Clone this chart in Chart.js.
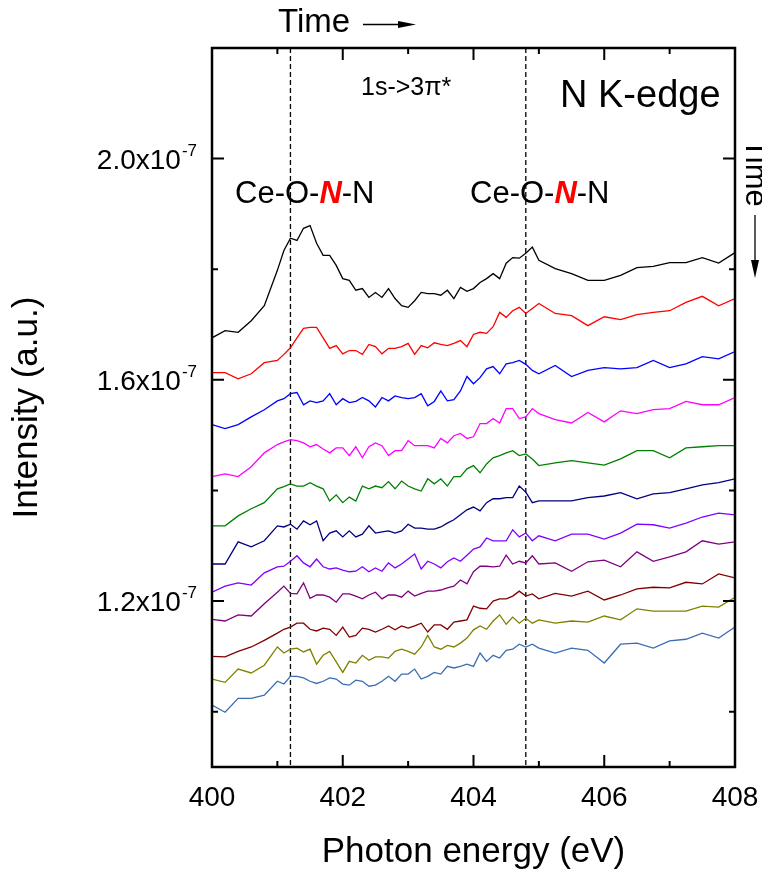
<!DOCTYPE html>
<html>
<head>
<meta charset="utf-8">
<script src="https://cdn.jsdelivr.net/npm/chart.js@4/dist/chart.umd.min.js"></script>
<style>
  html, body { margin: 0; padding: 0; background: #fff; }
  #wrap { width: 762px; height: 871px; }
</style>
</head>
<body>
<div id="wrap"><canvas id="xas" width="762" height="871"></canvas></div>
<script>
'use strict';

// photon energy grid (eV)
const energy = [
  400.0, 400.2, 400.4, 400.6, 400.8, 401.0,
  401.1, 401.2, 401.3, 401.4, 401.5, 401.6, 401.7, 401.8, 401.9, 402.0,
  402.1, 402.2, 402.3, 402.4, 402.5, 402.6, 402.7, 402.8, 402.9, 403.0,
  403.1, 403.2, 403.3, 403.4, 403.5, 403.6, 403.7, 403.8, 403.9, 404.0,
  404.1, 404.2, 404.3, 404.4, 404.5, 404.6, 404.7, 404.8, 404.9, 405.0,
  405.25, 405.5, 405.75, 406.0, 406.25, 406.5, 406.75, 407.0, 407.25, 407.5, 407.75, 408.0
];

// intensities, in units of 1e-7 (a.u.), first scan on top
const scan1 = [1.676, 1.689, 1.686, 1.707, 1.734, 1.798,
  1.834, 1.856, 1.852, 1.874, 1.879, 1.847, 1.825, 1.825, 1.807, 1.783,
  1.780, 1.762, 1.765, 1.749, 1.758, 1.749, 1.765, 1.747, 1.734, 1.731,
  1.743, 1.758, 1.756, 1.756, 1.753, 1.762, 1.747, 1.767, 1.760, 1.765,
  1.776, 1.783, 1.792, 1.783, 1.811, 1.821, 1.820, 1.829, 1.840, 1.816,
  1.801, 1.792, 1.780, 1.780, 1.789, 1.803, 1.805, 1.812, 1.812, 1.821, 1.811, 1.830];
const scan2 = [1.613, 1.613, 1.602, 1.611, 1.631, 1.635,
  1.646, 1.658, 1.676, 1.693, 1.695, 1.695, 1.676, 1.657, 1.662, 1.647,
  1.653, 1.653, 1.646, 1.664, 1.660, 1.647, 1.657, 1.657, 1.660, 1.666,
  1.646, 1.662, 1.658, 1.667, 1.664, 1.662, 1.666, 1.671, 1.660, 1.682,
  1.686, 1.684, 1.696, 1.722, 1.713, 1.725, 1.731, 1.720, 1.729, 1.738,
  1.720, 1.716, 1.698, 1.714, 1.709, 1.718, 1.722, 1.725, 1.740, 1.751, 1.734, 1.747];
const scan3 = [1.519, 1.512, 1.519, 1.533, 1.546, 1.562,
  1.566, 1.575, 1.577, 1.555, 1.562, 1.559, 1.562, 1.575, 1.555, 1.566,
  1.559, 1.561, 1.568, 1.562, 1.551, 1.568, 1.562, 1.571, 1.568, 1.566,
  1.568, 1.575, 1.553, 1.561, 1.580, 1.562, 1.564, 1.580, 1.606, 1.593,
  1.604, 1.620, 1.624, 1.611, 1.629, 1.631, 1.635, 1.628, 1.617, 1.611,
  1.626, 1.606, 1.617, 1.622, 1.620, 1.622, 1.635, 1.622, 1.629, 1.642, 1.638, 1.651];
const scan4 = [1.425, 1.430, 1.425, 1.443, 1.468, 1.483,
  1.488, 1.492, 1.490, 1.486, 1.479, 1.483, 1.475, 1.468, 1.477, 1.477,
  1.463, 1.479, 1.459, 1.479, 1.486, 1.481, 1.463, 1.472, 1.472, 1.490,
  1.481, 1.481, 1.481, 1.477, 1.494, 1.486, 1.499, 1.503, 1.494, 1.497,
  1.521, 1.521, 1.530, 1.522, 1.548, 1.548, 1.530, 1.533, 1.548, 1.539,
  1.528, 1.522, 1.541, 1.524, 1.544, 1.539, 1.546, 1.548, 1.561, 1.555, 1.555, 1.568];
const scan5 = [1.336, 1.336, 1.354, 1.367, 1.378, 1.403,
  1.407, 1.412, 1.408, 1.408, 1.414, 1.408, 1.403, 1.381, 1.392, 1.378,
  1.388, 1.381, 1.408, 1.403, 1.408, 1.405, 1.416, 1.403, 1.417, 1.408,
  1.403, 1.399, 1.421, 1.412, 1.421, 1.408, 1.425, 1.425, 1.439, 1.445,
  1.432, 1.448, 1.459, 1.463, 1.468, 1.472, 1.463, 1.466, 1.457, 1.445,
  1.450, 1.454, 1.450, 1.446, 1.457, 1.472, 1.472, 1.459, 1.477, 1.479, 1.481, 1.481];
const scan6 = [1.267, 1.267, 1.307, 1.298, 1.309, 1.336,
  1.334, 1.339, 1.330, 1.345, 1.338, 1.345, 1.309, 1.323, 1.327, 1.316,
  1.327, 1.316, 1.321, 1.336, 1.323, 1.325, 1.327, 1.323, 1.327, 1.339,
  1.332, 1.332, 1.330, 1.330, 1.334, 1.341, 1.347, 1.356, 1.365, 1.370,
  1.363, 1.378, 1.385, 1.385, 1.387, 1.387, 1.408, 1.397, 1.378, 1.381,
  1.381, 1.381, 1.387, 1.390, 1.396, 1.385, 1.394, 1.396, 1.403, 1.410, 1.414, 1.421];
const scan7 = [1.216, 1.227, 1.233, 1.229, 1.251, 1.262,
  1.263, 1.272, 1.282, 1.269, 1.262, 1.276, 1.262, 1.258, 1.260, 1.256,
  1.253, 1.254, 1.262, 1.253, 1.260, 1.254, 1.269, 1.260, 1.267, 1.276,
  1.285, 1.258, 1.272, 1.267, 1.260, 1.271, 1.278, 1.272, 1.283, 1.294,
  1.298, 1.314, 1.309, 1.309, 1.309, 1.329, 1.316, 1.323, 1.309, 1.318,
  1.309, 1.321, 1.321, 1.312, 1.323, 1.339, 1.338, 1.332, 1.341, 1.352, 1.359, 1.356];
const scan8 = [1.167, 1.164, 1.175, 1.173, 1.195, 1.216,
  1.227, 1.214, 1.213, 1.233, 1.205, 1.211, 1.211, 1.207, 1.198, 1.213,
  1.213, 1.209, 1.204, 1.211, 1.216, 1.204, 1.211, 1.211, 1.207, 1.218,
  1.209, 1.214, 1.218, 1.218, 1.220, 1.224, 1.227, 1.238, 1.231, 1.253,
  1.263, 1.263, 1.262, 1.263, 1.283, 1.267, 1.272, 1.269, 1.282, 1.267,
  1.269, 1.254, 1.271, 1.274, 1.262, 1.289, 1.272, 1.280, 1.289, 1.309, 1.303, 1.307];
const scan9 = [1.100, 1.099, 1.109, 1.117, 1.129, 1.142,
  1.149, 1.153, 1.160, 1.160, 1.149, 1.146, 1.151, 1.149, 1.138, 1.153,
  1.135, 1.138, 1.151, 1.149, 1.144, 1.149, 1.155, 1.148, 1.155, 1.151,
  1.155, 1.160, 1.144, 1.157, 1.157, 1.149, 1.162, 1.164, 1.166, 1.191,
  1.187, 1.186, 1.200, 1.204, 1.204, 1.209, 1.218, 1.209, 1.213, 1.204,
  1.214, 1.209, 1.218, 1.202, 1.211, 1.222, 1.225, 1.224, 1.234, 1.231, 1.249, 1.242];
const scan10 = [1.059, 1.053, 1.077, 1.070, 1.084, 1.117,
  1.106, 1.113, 1.115, 1.108, 1.113, 1.086, 1.102, 1.109, 1.090, 1.071,
  1.091, 1.088, 1.102, 1.093, 1.099, 1.099, 1.097, 1.109, 1.113, 1.109,
  1.104, 1.117, 1.138, 1.117, 1.113, 1.120, 1.117, 1.124, 1.133, 1.148,
  1.155, 1.149, 1.164, 1.175, 1.158, 1.171, 1.160, 1.169, 1.160, 1.166,
  1.160, 1.164, 1.162, 1.173, 1.166, 1.186, 1.182, 1.182, 1.182, 1.191, 1.189, 1.207];
const scan11 = [1.012, 0.999, 1.024, 1.024, 1.030, 1.055,
  1.050, 1.064, 1.064, 1.061, 1.055, 1.051, 1.055, 1.061, 1.059, 1.050,
  1.048, 1.057, 1.055, 1.046, 1.048, 1.055, 1.064, 1.055, 1.068, 1.068,
  1.077, 1.059, 1.064, 1.071, 1.068, 1.082, 1.079, 1.082, 1.086, 1.082,
  1.106, 1.091, 1.102, 1.097, 1.111, 1.113, 1.122, 1.117, 1.122, 1.115,
  1.106, 1.115, 1.111, 1.088, 1.122, 1.124, 1.115, 1.128, 1.131, 1.142, 1.133, 1.153];

const scans = [scan1, scan2, scan3, scan4, scan5, scan6, scan7, scan8, scan9, scan10, scan11];
const scanColors = ['#000000', '#ff0000', '#0000ff', '#ff00ff', '#008000', '#000080',
  '#8000ff', '#800080', '#800000', '#808000', '#3a6db3'];

// axes
const xMajor = [400, 402, 404, 406, 408];
const xMinor = [401, 403, 405, 407];
const yMajor = [1.2, 1.6, 2.0];
const yMinor = [1.0, 1.4, 1.8];
const yTickLabels = ['1.2x10', '1.6x10', '2.0x10'];
const yTickExp = '-7';
const peakLines = [401.2, 404.8];

const FONT = '"Liberation Sans", Arial, Helvetica, sans-serif';

const chrome = {
  id: 'chrome',
  beforeDatasetsDraw(chart) {
    const { ctx, chartArea: a, scales: { x } } = chart;
    ctx.save();
    ctx.strokeStyle = '#000';
    ctx.lineWidth = 1.3;
    ctx.setLineDash([5, 3]);
    peakLines.forEach((e) => {
      const px = x.getPixelForValue(e);
      ctx.beginPath();
      ctx.moveTo(px, a.top);
      ctx.lineTo(px, a.bottom);
      ctx.stroke();
    });
    ctx.restore();
  },
  afterDraw(chart) {
    const { ctx, chartArea: a, scales: { x, y } } = chart;
    ctx.save();
    ctx.strokeStyle = '#000';
    ctx.fillStyle = '#000';

    // frame
    ctx.lineWidth = 2.5;
    ctx.strokeRect(a.left, a.top, a.right - a.left, a.bottom - a.top);

    // ticks (inside)
    ctx.lineWidth = 2;
    const xt = (vals, len) => vals.forEach((v) => {
      const px = x.getPixelForValue(v);
      ctx.beginPath();
      ctx.moveTo(px, a.bottom); ctx.lineTo(px, a.bottom - len);
      ctx.moveTo(px, a.top); ctx.lineTo(px, a.top + len);
      ctx.stroke();
    });
    const yt = (vals, len) => vals.forEach((v) => {
      const py = y.getPixelForValue(v);
      ctx.beginPath();
      ctx.moveTo(a.left, py); ctx.lineTo(a.left + len, py);
      ctx.moveTo(a.right, py); ctx.lineTo(a.right - len, py);
      ctx.stroke();
    });
    xt(xMajor, 12); xt(xMinor, 6);
    yt(yMajor, 12); yt(yMinor, 6);

    // x tick labels
    ctx.font = `28px ${FONT}`;
    ctx.textAlign = 'center';
    ctx.textBaseline = 'alphabetic';
    xMajor.forEach((v) => ctx.fillText(String(v), x.getPixelForValue(v), a.bottom + 39));

    // y tick labels with superscript exponent
    ctx.textAlign = 'left';
    yMajor.forEach((v, i) => {
      const py = y.getPixelForValue(v);
      ctx.font = `17px ${FONT}`;
      const we = ctx.measureText(yTickExp).width;
      ctx.font = `28px ${FONT}`;
      const wm = ctx.measureText(yTickLabels[i]).width;
      const right = a.left - 15;
      ctx.fillText(yTickLabels[i], right - we - wm - 1, py + 10);
      ctx.font = `17px ${FONT}`;
      ctx.fillText(yTickExp, right - we, py - 3);
    });

    // axis titles
    ctx.font = `35px ${FONT}`;
    ctx.textAlign = 'center';
    ctx.fillText('Photon energy (eV)', (a.left + a.right) / 2, 862);
    ctx.save();
    ctx.translate(37, (a.top + a.bottom) / 2);
    ctx.rotate(-Math.PI / 2);
    ctx.fillText('Intensity (a.u.)', 0, 0);
    ctx.restore();

    // annotations
    ctx.textAlign = 'left';
    ctx.font = `25px ${FONT}`;
    ctx.fillText('1s->3\u03c0*', 361, 95);
    ctx.font = `38px ${FONT}`;
    ctx.fillText('N K-edge', 560, 107);

    const bond = (left, base) => {
      let cx = left;
      const part = (t, f, c) => {
        ctx.font = f; ctx.fillStyle = c;
        ctx.fillText(t, cx, base);
        cx += ctx.measureText(t).width;
      };
      part('Ce-O-', `31px ${FONT}`, '#000');
      part('N', `italic bold 31px ${FONT}`, '#ff0000');
      part('-N', `31px ${FONT}`, '#000');
      ctx.fillStyle = '#000';
    };
    bond(235, 203);
    bond(470, 203);

    // time arrows
    ctx.font = `33px ${FONT}`;
    ctx.fillText('Time', 278, 32);
    ctx.lineWidth = 1.3;
    ctx.beginPath(); ctx.moveTo(363, 24.5); ctx.lineTo(400, 24.5); ctx.stroke();
    ctx.beginPath(); ctx.moveTo(398, 21); ctx.lineTo(416, 24.5); ctx.lineTo(398, 28); ctx.closePath(); ctx.fill();

    ctx.save();
    ctx.translate(746, 139);
    ctx.rotate(Math.PI / 2);
    ctx.font = `31px ${FONT}`;
    ctx.fillText('Time', 0, 0);
    ctx.restore();
    ctx.beginPath(); ctx.moveTo(755, 215); ctx.lineTo(755, 262); ctx.stroke();
    ctx.beginPath(); ctx.moveTo(751, 260); ctx.lineTo(755, 278); ctx.lineTo(759, 260); ctx.closePath(); ctx.fill();

    ctx.restore();
  }
};

new Chart(document.getElementById('xas').getContext('2d'), {
  type: 'line',
  data: {
    datasets: scans.map((s, i) => ({
      label: `scan ${i + 1}`,
      data: energy.map((e, j) => ({ x: e, y: s[j] })),
      borderColor: scanColors[i],
      borderWidth: 1.3,
      pointRadius: 0,
      tension: 0,
      fill: false
    }))
  },
  options: {
    responsive: false,
    devicePixelRatio: 1,
    animation: false,
    layout: { padding: { left: 212, top: 48, right: 27, bottom: 104 } },
    plugins: { legend: { display: false }, tooltip: { enabled: false } },
    scales: {
      x: { type: 'linear', min: 400, max: 408, display: false },
      y: { type: 'linear', min: 0.9, max: 2.2, display: false }
    }
  },
  plugins: [chrome]
});
</script>
</body>
</html>
